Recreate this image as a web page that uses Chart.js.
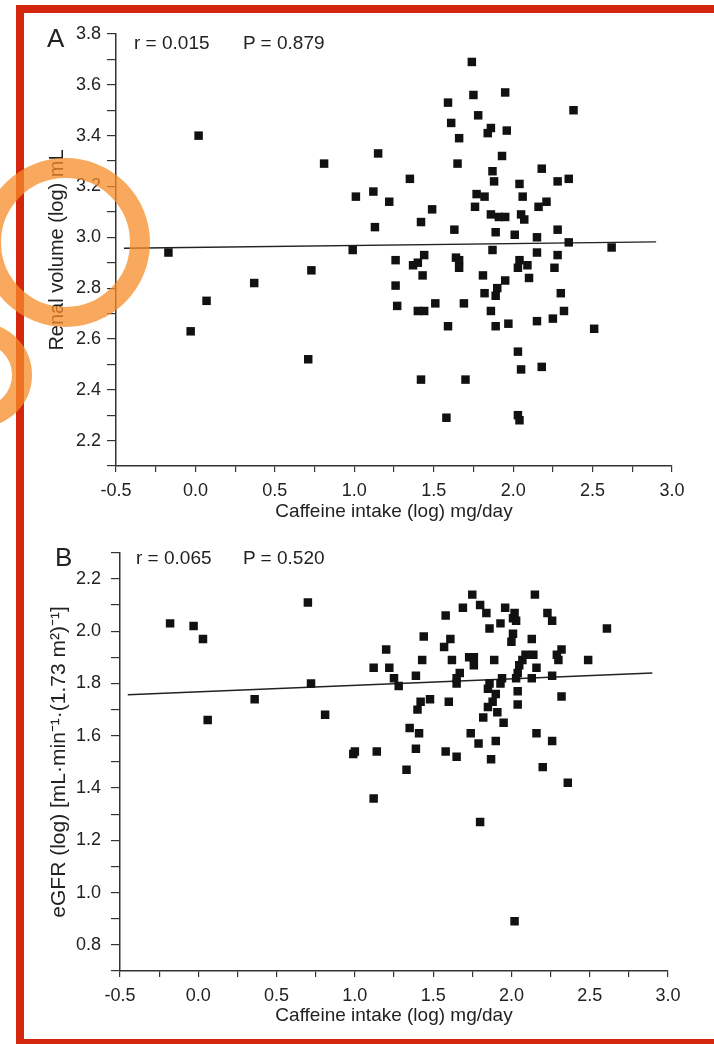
<!DOCTYPE html>
<html>
<head>
<meta charset="utf-8">
<script src="https://cdn.jsdelivr.net/npm/chart.js@4.4.1/dist/chart.umd.min.js"></script>
<style>
  html, body { margin: 0; padding: 0; background: #fff; }
  body { width: 714px; height: 1044px; position: relative; overflow: hidden; font-family: "Liberation Sans", Arial, sans-serif; color: #222; }
  .panel { position: absolute; left: 0; width: 714px; }
  .panel canvas { display: block; }
  .lbl { position: absolute; white-space: pre; line-height: 1; }
  .letter { font-size: 26px; }
  .stat { font-size: 19px; }
  .frame { position: absolute; left: 16px; top: 5px; width: 714px; height: 1042px; box-sizing: border-box; border: 8px solid #d3260d; pointer-events: none; }
  .ring { position: absolute; box-sizing: border-box; border-radius: 50%; border: 20px solid rgba(245, 140, 40, 0.75); pointer-events: none; }
</style>
</head>
<body>
<div class="panel" style="top:0;height:540px"><canvas id="chartA" width="714" height="540"></canvas></div>
<div class="panel" style="top:532px;height:512px"><canvas id="chartB" width="714" height="512"></canvas></div>

<div class="lbl letter" style="left:47px;top:25px">A</div>
<div class="lbl stat" style="left:134px;top:33px">r = 0.015</div>
<div class="lbl stat" style="left:243px;top:33px">P = 0.879</div>
<div class="lbl letter" style="left:55px;top:544px">B</div>
<div class="lbl stat" style="left:136px;top:548px">r = 0.065</div>
<div class="lbl stat" style="left:243px;top:548px">P = 0.520</div>

<div class="frame"></div>
<div class="ring" style="left:-19px;top:158px;width:169px;height:169px"></div>
<div class="ring" style="left:-72px;top:323px;width:104px;height:104px"></div>

<script>
// Panel A: caffeine intake vs renal volume (both log)
const caffeineA = [0.02, -0.17, -0.03, 0.07, 0.37, 0.73, 0.71, 0.81, 0.99, 1.01,
  1.15, 1.12, 1.22, 1.13, 1.26, 1.26, 1.27, 1.74, 1.75, 1.95,
  1.59, 1.78, 2.38, 1.61, 1.86, 1.84, 1.96, 1.66, 1.93, 1.65,
  1.35, 2.18, 1.87, 1.88, 2.04, 2.28, 2.35, 1.49, 1.42, 1.77,
  1.82, 1.76, 2.06, 2.16, 2.21, 1.86, 1.91, 1.95, 2.05, 2.07,
  1.63, 1.89, 2.01, 2.15, 2.28, 2.35, 2.62, 1.87, 1.44, 1.64,
  2.15, 2.28, 2.04, 1.37, 1.40, 1.66, 1.66, 1.43, 2.03, 2.09,
  2.10, 2.26, 1.81, 1.95, 1.90, 1.89, 1.82, 2.30, 1.40, 1.44,
  1.51, 1.69, 1.86, 2.32, 1.59, 1.89, 1.97, 2.15, 2.25, 2.51,
  2.03, 2.05, 2.18, 1.42, 1.70, 1.58, 2.03, 2.04];
const renalA = [3.40, 2.94, 2.63, 2.75, 2.82, 2.87, 2.52, 3.29, 2.95, 3.16,
  3.33, 3.18, 3.14, 3.04, 2.91, 2.81, 2.73, 3.69, 3.56, 3.57,
  3.53, 3.48, 3.50, 3.45, 3.43, 3.41, 3.42, 3.39, 3.32, 3.29,
  3.23, 3.27, 3.26, 3.22, 3.21, 3.22, 3.23, 3.11, 3.06, 3.17,
  3.16, 3.12, 3.16, 3.12, 3.14, 3.09, 3.08, 3.08, 3.09, 3.07,
  3.03, 3.02, 3.01, 3.00, 3.03, 2.98, 2.96, 2.95, 2.93, 2.92,
  2.94, 2.93, 2.91, 2.89, 2.90, 2.91, 2.88, 2.85, 2.88, 2.89,
  2.84, 2.88, 2.85, 2.83, 2.80, 2.77, 2.78, 2.78, 2.71, 2.71,
  2.74, 2.74, 2.71, 2.71, 2.65, 2.65, 2.66, 2.67, 2.68, 2.64,
  2.55, 2.48, 2.49, 2.44, 2.44, 2.29, 2.30, 2.28];

// Panel B: caffeine intake vs eGFR (both log)
const caffeineB = [-0.18, -0.03, 0.03, 0.70, 0.06, 0.36, 0.72, 0.81, 0.99, 1.00,
  1.14, 1.12, 1.20, 1.22, 1.12, 1.33, 1.80, 2.20, 2.36, 2.02,
  1.75, 2.15, 1.69, 1.80, 1.84, 1.96, 2.02, 2.03, 2.01, 1.93,
  1.58, 2.23, 2.26, 2.61, 1.86, 2.01, 2.00, 1.44, 1.61, 1.57,
  2.13, 1.43, 1.62, 1.73, 1.76, 1.76, 1.89, 2.09, 2.07, 2.14,
  2.32, 2.29, 2.30, 2.49, 2.05, 2.16, 1.39, 1.67, 1.65, 1.65,
  2.04, 2.03, 2.13, 2.26, 1.25, 1.28, 1.94, 1.93, 1.86, 1.85,
  1.90, 1.88, 2.04, 1.42, 1.40, 1.48, 1.60, 1.85, 2.04, 2.32,
  1.82, 1.91, 1.95, 1.35, 1.41, 1.74, 2.16, 1.39, 1.58, 1.79,
  1.90, 2.26, 1.65, 1.87];
const egfrB = [2.03, 2.02, 1.97, 2.11, 1.66, 1.74, 1.80, 1.68, 1.53, 1.54,
  1.54, 1.86, 1.93, 1.86, 1.36, 1.47, 1.27, 1.48, 1.42, 0.89,
  2.14, 2.14, 2.09, 2.10, 2.07, 2.09, 2.07, 2.04, 2.05, 2.03,
  2.06, 2.07, 2.04, 2.01, 2.01, 1.99, 1.96, 1.98, 1.97, 1.94,
  1.97, 1.89, 1.89, 1.90, 1.90, 1.87, 1.89, 1.91, 1.89, 1.91,
  1.93, 1.91, 1.89, 1.89, 1.87, 1.86, 1.83, 1.84, 1.82, 1.80,
  1.84, 1.82, 1.82, 1.83, 1.82, 1.79, 1.82, 1.80, 1.80, 1.78,
  1.76, 1.73, 1.77, 1.73, 1.70, 1.74, 1.73, 1.71, 1.72, 1.75,
  1.67, 1.69, 1.65, 1.63, 1.61, 1.61, 1.61, 1.55, 1.54, 1.57,
  1.58, 1.58, 1.52, 1.51];

// regression line ends
const fitX = [-0.45, 2.9];
const fitA = [2.957, 2.982];
const fitB = [1.757, 1.840];

const xTicks = ["-0.5", "0.0", "0.5", "1.0", "1.5", "2.0", "2.5", "3.0"];

const FONT = "'Liberation Sans', Arial, sans-serif";
const INK = "#222";

function toPoints(xs, ys) {
    return xs.map((x, i) => ({ x: x, y: ys[i] }));
}

function makeChart(id, cfg) {
    new Chart(document.getElementById(id), {
        type: "scatter",
        data: {
            datasets: [
                {
                    data: toPoints(cfg.xs, cfg.ys),
                    pointStyle: "rect",
                    pointRadius: 6,
                    backgroundColor: "#111",
                    borderWidth: 0,
                },
                {
                    data: toPoints(fitX, cfg.fit),
                    showLine: true,
                    pointRadius: 0,
                    borderColor: "#222",
                    borderWidth: 1.4,
                },
            ],
        },
        options: {
            responsive: false,
            animation: false,
            events: [],
            layout: { padding: { left: 0, top: cfg.padTop, right: cfg.padRight, bottom: 0 } },
            plugins: { legend: { display: false }, tooltip: { enabled: false } },
            scales: {
                x: {
                    type: "linear",
                    min: -0.5,
                    max: 3.0,
                    afterFit: (s) => { s.height = cfg.xHeight; },
                    ticks: {
                        stepSize: 0.25,
                        autoSkip: false,
                        maxRotation: 0,
                        padding: 8,
                        color: INK,
                        font: { family: FONT, size: 18 },
                        callback: (v) => (Math.round(v * 4) % 2 === 0 ? xTicks[Math.round((v + 0.5) * 2)] : ""),
                    },
                    grid: { drawOnChartArea: false, tickLength: 6, color: "#333", lineWidth: 1.2 },
                    border: { color: "#333", width: 1.5 },
                    title: {
                        display: true,
                        text: "Caffeine intake (log) mg/day",
                        color: INK,
                        font: { family: FONT, size: 19 },
                        padding: { top: 4, bottom: 17 },
                    },
                },
                y: {
                    type: "linear",
                    min: cfg.yMin,
                    max: cfg.yMax,
                    afterFit: (s) => { s.width = cfg.yWidth; },
                    ticks: {
                        stepSize: 0.1,
                        autoSkip: false,
                        padding: cfg.yPad,
                        color: INK,
                        font: { family: FONT, size: 18 },
                        callback: (v) => (Math.round(v * 10) % 2 === 0 ? v.toFixed(1) : ""),
                    },
                    grid: { drawOnChartArea: false, tickLength: 9, color: "#333", lineWidth: 1.2 },
                    border: { color: "#333", width: 1.5 },
                    title: {
                        display: true,
                        text: cfg.yTitle,
                        color: INK,
                        font: { family: FONT, size: cfg.titleSize },
                        padding: { top: cfg.titleOffset, bottom: 0 },
                    },
                },
            },
        },
    });
}

makeChart("chartA", {
    xs: caffeineA, ys: renalA, fit: fitA,
    yMin: 2.1, yMax: 3.8, yTitle: "Renal volume (log) mL", titleSize: 20,
    yWidth: 116, padTop: 34, padRight: 42, xHeight: 74, titleOffset: 45, yPad: 6,
});

makeChart("chartB", {
    xs: caffeineB, ys: egfrB, fit: fitB,
    yMin: 0.7, yMax: 2.3, yTitle: "eGFR (log) [mL·min⁻¹·(1.73 m²)⁻¹]", titleSize: 21,
    yWidth: 120, padTop: 18, padRight: 46, xHeight: 73, titleOffset: 47, yPad: 10,
});
</script>
</body>
</html>
